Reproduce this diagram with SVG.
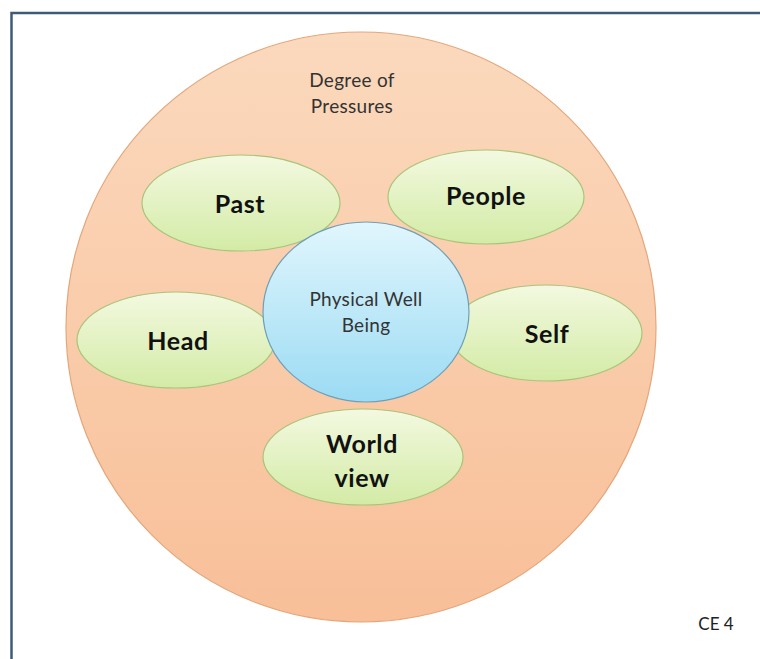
<svg xmlns="http://www.w3.org/2000/svg" width="760" height="659" viewBox="0 0 760 659">
<defs>
<linearGradient id="gPeach" x1="0" y1="0" x2="0" y2="1">
<stop offset="0" stop-color="#fbd9bd"/>
<stop offset="1" stop-color="#f8bf98"/>
</linearGradient>
<linearGradient id="gGreen" x1="0" y1="0" x2="0" y2="1">
<stop offset="0" stop-color="#f3f9e0"/>
<stop offset="1" stop-color="#d3eba6"/>
</linearGradient>
<linearGradient id="gBlue" x1="0" y1="0" x2="0" y2="1">
<stop offset="0" stop-color="#e1f6fd"/>
<stop offset="1" stop-color="#9bdbf3"/>
</linearGradient>
</defs>
<style>
.lbl{font-family:Lato,"Open Sans","Liberation Sans",sans-serif;font-weight:bold;font-size:25px;letter-spacing:0.6px;fill:#111;text-anchor:middle}
.sm{font-family:Lato,"Open Sans","Liberation Sans",sans-serif;font-size:19px;letter-spacing:0.3px;fill:#333;text-anchor:middle}
.green{fill:url(#gGreen);stroke:#a9c47a;stroke-width:1.2}
</style>
<rect x="0" y="0" width="760" height="659" fill="#ffffff"/>
<path d="M11.5 659 V13 H760" fill="none" stroke="#3d5b78" stroke-width="2.5"/>
<g id="pressures">
<circle cx="361" cy="327" r="295" fill="url(#gPeach)" stroke="#e3a77c" stroke-width="1.2"/>
<text class="sm" x="352" y="87">Degree of</text>
<text class="sm" x="352" y="113">Pressures</text>
</g>
<g id="past">
<ellipse class="green" cx="241" cy="203" rx="99" ry="48"/>
<text class="lbl" x="240" y="213">Past</text>
</g>
<g id="people">
<ellipse class="green" cx="486" cy="197" rx="98" ry="47"/>
<text class="lbl" x="486" y="205">People</text>
</g>
<g id="head">
<ellipse class="green" cx="176" cy="340" rx="99" ry="48"/>
<text class="lbl" x="178" y="350">Head</text>
</g>
<g id="self">
<ellipse class="green" cx="546" cy="333" rx="96" ry="48"/>
<text class="lbl" x="547" y="343">Self</text>
</g>
<g id="worldview">
<ellipse class="green" cx="363" cy="457" rx="100" ry="48"/>
<text class="lbl" x="362" y="453">World</text>
<text class="lbl" x="362" y="487">view</text>
</g>
<g id="physical">
<ellipse cx="366" cy="312" rx="103" ry="90" fill="url(#gBlue)" stroke="#6f9fb6" stroke-width="1.2"/>
<text class="sm" x="366" y="306">Physical Well</text>
<text class="sm" x="366" y="332">Being</text>
</g>
<g id="connectors"></g>
<text x="716" y="630" font-family="Lato,'Open Sans','Liberation Sans',sans-serif" font-size="17" fill="#222" text-anchor="middle">CE 4</text>
</svg>
